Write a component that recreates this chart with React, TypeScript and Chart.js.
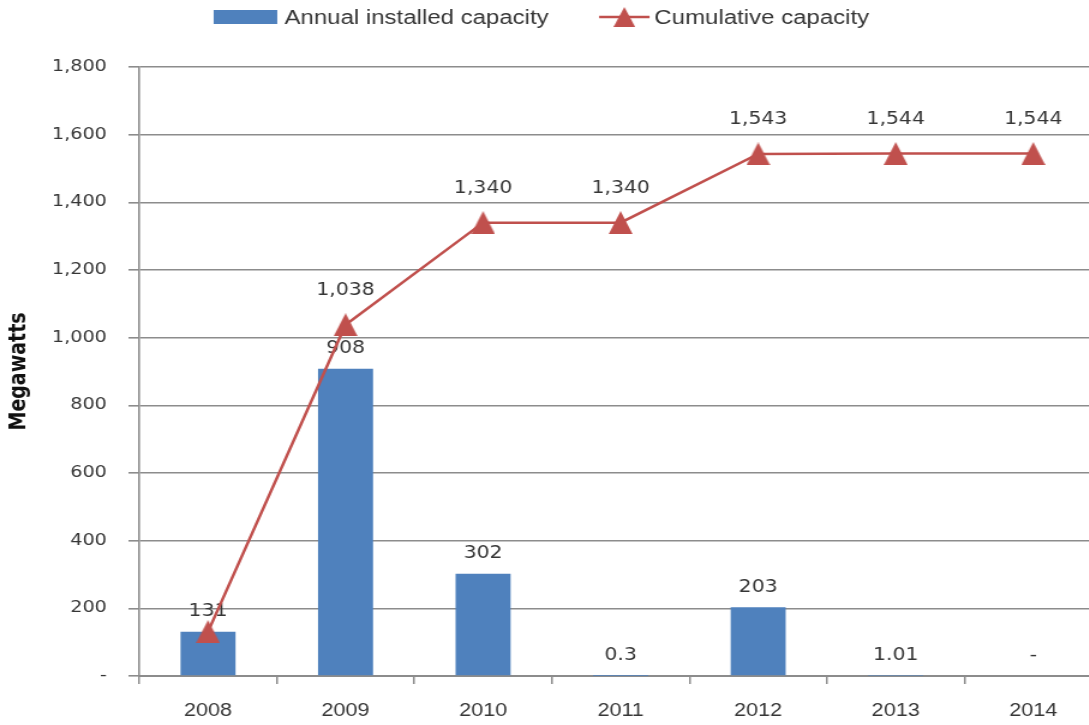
import React, { useEffect, useRef } from 'react';
import { Chart, registerables } from 'chart.js';

Chart.register(...registerables);

// ---- data ----
const years = ['2008', '2009', '2010', '2011', '2012', '2013', '2014'];
const annualCapacity = [131, 908, 302, 0.3, 203, 1.01, 0];
const cumulativeCapacity = [131, 1038, 1340, 1340, 1543, 1544, 1544];
const yTickValues = [0, 200, 400, 600, 800, 1000, 1200, 1400, 1600, 1800];
const seriesNames = ['Annual installed capacity', 'Cumulative capacity'];
const yAxisTitle = 'Megawatts';

// ---- style ----
const BAR_COLOR = '#4F81BD';
const LINE_COLOR = '#C0504D';
const GRID_COLOR = '#8c8c8c';
const TEXT_COLOR = '#363636';
const STRETCH = 1.2; // reference is horizontally stretched
const CSS_W = 1102;
const W = Math.round(CSS_W / STRETCH);
const H = 725;

const fmt = (v: number) =>
  v === 0 ? '-' : Number.isInteger(v) ? v.toLocaleString('en-US') : String(v);

function makeTriangle(w: number, h: number, color: string) {
  const c = document.createElement('canvas');
  c.width = w;
  c.height = h;
  const g = c.getContext('2d')!;
  g.fillStyle = color;
  g.beginPath();
  g.moveTo(w / 2, 0);
  g.lineTo(w, h);
  g.lineTo(0, h);
  g.closePath();
  g.fill();
  return c;
}

export default function App() {
  const ref = useRef<HTMLCanvasElement | null>(null);

  useEffect(() => {
    if (!ref.current) return;
    const tri = makeTriangle(20, 23, LINE_COLOR);
    const legendTri = makeTriangle(18, 20, LINE_COLOR);

    const labelPlugin = {
      id: 'valueLabels',
      afterDatasetDraw(chart: any, args: any) {
        const ctx = chart.ctx;
        ctx.save();
        ctx.fillStyle = TEXT_COLOR;
        ctx.font = '17px "DejaVu Sans"';
        ctx.textAlign = 'center';
        ctx.textBaseline = 'middle';
        const meta = chart.getDatasetMeta(args.index);
        if (args.index === 0) {
          meta.data.forEach((el: any, i: number) => {
            ctx.fillText(fmt(annualCapacity[i]), el.x, el.y - 20);
          });
        } else {
          meta.data.forEach((el: any, i: number) => {
            if (cumulativeCapacity[i] === annualCapacity[i]) return;
            ctx.fillText(fmt(cumulativeCapacity[i]), el.x, el.y - 34);
          });
        }
        ctx.restore();
      },
    };

    const legendPlugin = {
      id: 'customLegend',
      afterDraw(chart: any) {
        const ctx = chart.ctx;
        ctx.save();
        ctx.font = '20px "Liberation Sans"';
        ctx.textBaseline = 'middle';
        ctx.textAlign = 'left';
        const w1 = ctx.measureText(seriesNames[0]).width;
        const w2 = ctx.measureText(seriesNames[1]).width;
        const boxW = 53, lineW = 42, gapA = 6, gapB = 42, gapC = 4;
        const total = boxW + gapA + w1 + gapB + lineW + gapC + w2;
        let x = chart.width / 2 - 8 - total / 2;
        const y = 17;
        ctx.fillStyle = BAR_COLOR;
        ctx.fillRect(x, y - 7, boxW, 14);
        x += boxW + gapA;
        ctx.fillStyle = TEXT_COLOR;
        ctx.fillText(seriesNames[0], x, y + 1);
        x += w1 + gapB;
        ctx.strokeStyle = LINE_COLOR;
        ctx.lineWidth = 2.5;
        ctx.beginPath();
        ctx.moveTo(x, y);
        ctx.lineTo(x + lineW, y);
        ctx.stroke();
        ctx.drawImage(legendTri, x + lineW / 2 - 9, y - 10, 18, 20);
        x += lineW + gapC;
        ctx.fillStyle = TEXT_COLOR;
        ctx.fillText(seriesNames[1], x, y + 1);
        ctx.restore();
      },
    };

    const chart = new Chart(ref.current, {
      type: 'bar',
      data: {
        labels: years,
        datasets: [
          {
            type: 'bar',
            label: seriesNames[0],
            data: annualCapacity,
            backgroundColor: BAR_COLOR,
            barPercentage: 0.4,
            categoryPercentage: 1,
            order: 2,
          },
          {
            type: 'line',
            label: seriesNames[1],
            data: cumulativeCapacity,
            borderColor: LINE_COLOR,
            borderWidth: 2.5,
            backgroundColor: LINE_COLOR,
            pointStyle: tri as any,
            pointRadius: 11,
            tension: 0,
            clip: false,
            order: 1,
          } as any,
        ],
      },
      options: {
        responsive: false,
        animation: false,
        devicePixelRatio: 1,
        layout: { autoPadding: false, padding: { top: 67, left: 0, right: 0, bottom: 0 } },
        plugins: {
          legend: { display: false },
          tooltip: { enabled: false },
        },
        scales: {
          x: {
            type: 'category',
            offset: true,
            grid: {
              display: true,
              drawOnChartArea: false,
              offset: true,
              tickLength: 8,
              color: GRID_COLOR,
              lineWidth: 1.5,
            },
            border: { color: GRID_COLOR, width: 2 },
            ticks: {
              color: TEXT_COLOR,
              font: { family: '"Liberation Sans"', size: 18 },
              padding: 16,
              maxRotation: 0,
              autoSkip: false,
            },
            afterFit: (s: any) => {
              s.height = 49;
            },
          },
          y: {
            min: 0,
            max: 1800,
            afterBuildTicks: (s: any) => {
              s.ticks = yTickValues.map((v) => ({ value: v }));
            },
            grid: {
              color: GRID_COLOR,
              lineWidth: 1.6,
              tickLength: 9,
              drawTicks: true,
            },
            border: { color: GRID_COLOR, width: 1.6 },
            ticks: {
              color: TEXT_COLOR,
              font: { family: '"DejaVu Sans"', size: 16 },
              padding: 18,
              callback: (v: any) => fmt(Number(v)),
            },
            title: {
              display: true,
              text: yAxisTitle,
              color: '#111',
              font: { family: '"DejaVu Sans"', size: 19, weight: 'bold' },
              padding: { top: 5, bottom: 0 },
            },
            afterFit: (s: any) => {
              s.width = 116;
            },
          },
        },
      },
      plugins: [labelPlugin, legendPlugin],
    });
    return () => chart.destroy();
  }, []);

  return (
    <div
      style={{
        position: 'fixed',
        left: 0,
        top: 0,
        width: 1089,
        height: 725,
        overflow: 'hidden',
        background: '#fff',
      }}
    >
      <canvas
        ref={ref}
        width={W}
        height={H}
        style={{ width: `${W * STRETCH}px`, height: `${H}px`, display: 'block' }}
      />
    </div>
  );
}
